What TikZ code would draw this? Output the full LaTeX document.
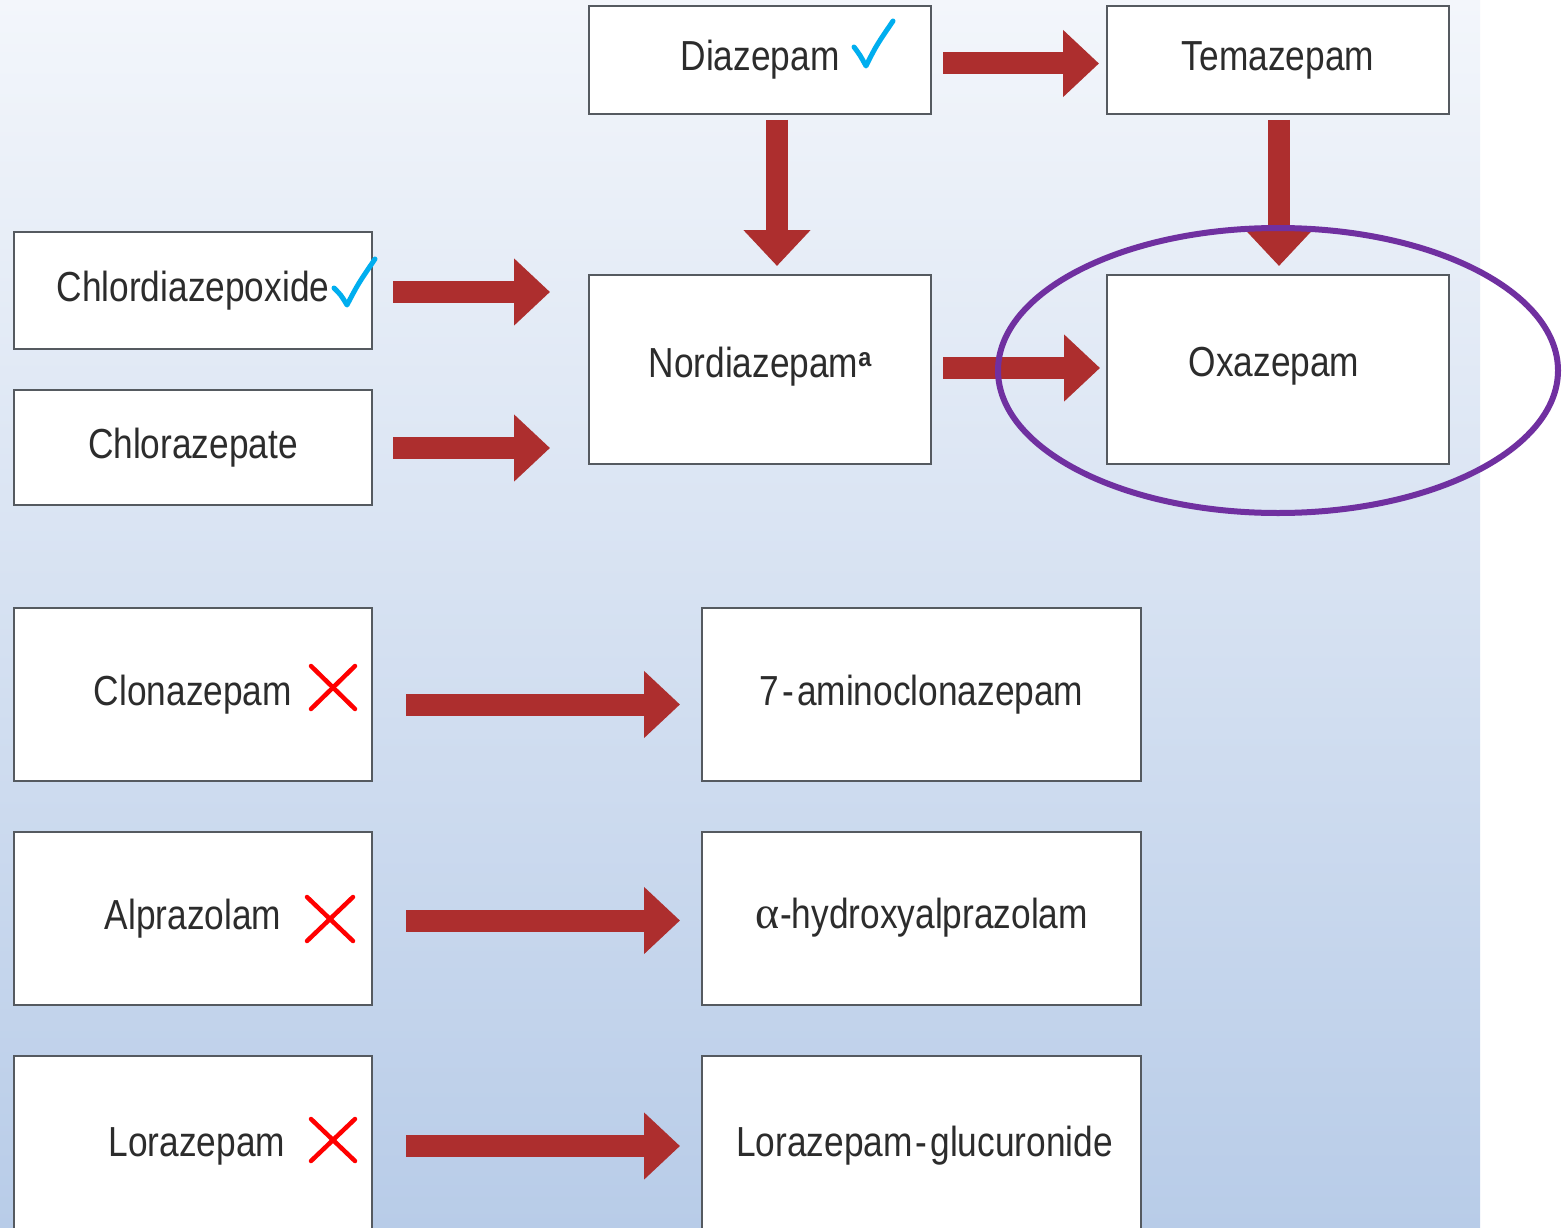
\documentclass[tikz,border=0pt]{standalone}
\usepackage{fontspec}
\setmainfont{Liberation Sans}[FakeStretch=0.84]
\newfontfamily\grkfont{Liberation Serif}
\newfontfamily\supfont{Liberation Sans Bold}[FakeStretch=0.9]
\usetikzlibrary{arrows.meta,shapes.geometric}
\definecolor{bgtop}{HTML}{F3F6FB}
\definecolor{bgbot}{HTML}{B8CCE8}
\definecolor{boxgray}{HTML}{555A60}
\definecolor{txtgray}{HTML}{2C2C2C}
\definecolor{arrowred}{HTML}{AD2E2E}
\definecolor{checkblue}{HTML}{00AEEF}
\definecolor{ovalpurple}{HTML}{7030A0}
\newcommand{\hyph}{\kern3pt-\kern3pt}
\tikzset{
  drugbox/.style={draw=boxgray, line width=2pt, fill=white, rectangle, inner sep=0pt,
    text=txtgray, font=\fontsize{42}{50}\selectfont},
  bigarrow/.style={draw=arrowred, line width=22pt, -{Triangle[length=36pt,width=65pt]}},
  checkmark/.style={draw=checkblue, line width=5pt, line cap=round, line join=round},
  xmark/.style={draw=red, line width=4.5pt, line cap=round},
}
\begin{document}
\begin{tikzpicture}[x=1pt,y=-1pt]
\useasboundingbox (0,0) rectangle (1563,1228);
\clip (0,0) rectangle (1563,1228);
\fill[white] (0,0) rectangle (1563,1228);
\shade[top color=bgtop, bottom color=bgbot] (0,0) rectangle (1480,1228);

% boxes
\node[drugbox, minimum width=342pt, minimum height=108pt] (diaz) at (760,60) {\raisebox{-3pt}{Diazepam}};
\node[drugbox, minimum width=342pt, minimum height=108pt] (temaz) at (1278,60) {\raisebox{-3pt}{Temazepam}};
\node[drugbox, minimum width=358pt, minimum height=117pt] (chl) at (193,290.5) {Chlordiazepoxide};
\node[drugbox, minimum width=358pt, minimum height=115pt] (clz) at (193,447.5) {Chlorazepate};
\node[drugbox, minimum width=342pt, minimum height=189pt] (nord) at (760,369.5) {\raisebox{15pt}{Nordiazepam\raisebox{11pt}{\supfont\fontsize{26}{26}\selectfont a}}};
\node[drugbox, minimum width=342pt, minimum height=189pt] (oxaz) at (1278,369.5) {\raisebox{15pt}{Oxazepam\hspace{8pt}}};
\node[drugbox, minimum width=358pt, minimum height=173pt] (clon) at (193,694.5) {\raisebox{2pt}{Clonazepam}};
\node[drugbox, minimum width=439pt, minimum height=173pt] (amino) at (921.5,694.5) {\raisebox{2pt}{7\hyph aminoclonazepam}};
\node[drugbox, minimum width=358pt, minimum height=173pt] (alp) at (193,918.5) {Alprazolam};
\node[drugbox, minimum width=439pt, minimum height=173pt] (hyd) at (921.5,918.5) {\raisebox{11pt}{{\grkfont\fontsize{46}{50}\selectfont α}\kern1pt-hydroxyalprazolam}};
\node[drugbox, minimum width=358pt, minimum height=180pt] (lor) at (193,1146) {\raisebox{7pt}{\hspace{8pt}Lorazepam}};
\node[drugbox, minimum width=439pt, minimum height=180pt] (glu) at (921.5,1146) {\raisebox{7pt}{\hspace{6pt}Lorazepam\hyph glucuronide}};

% arrows
\draw[bigarrow, shorten <=11pt, shorten >=7pt] ([yshift=-3.5pt]diaz.east) -- ([yshift=-3.5pt]temaz.west);
\draw[bigarrow, shorten <=5pt, shorten >=8pt] ([xshift=17pt]diaz.south) -- ([xshift=17pt]nord.north);
\draw[bigarrow, shorten <=5pt, shorten >=8pt] ([xshift=1pt]temaz.south) -- ([xshift=1pt]oxaz.north);
\draw[bigarrow, shorten <=20pt, shorten >=38pt] ([yshift=-1.5pt]chl.east) -- ([yshift=-1.5pt]chl.east -| nord.west);
\draw[bigarrow, shorten <=20pt, shorten >=38pt] ([yshift=-0.5pt]clz.east) -- ([yshift=-0.5pt]clz.east -| nord.west);
\draw[bigarrow, shorten <=11pt, shorten >=6pt] ([yshift=1.5pt]nord.east) -- ([yshift=1.5pt]oxaz.west);
\draw[bigarrow, shorten <=33pt, shorten >=21pt] ([yshift=-10pt]clon.east) -- ([yshift=-10pt]amino.west);
\draw[bigarrow, shorten <=33pt, shorten >=21pt] ([yshift=-2pt]alp.east) -- ([yshift=-2pt]hyd.west);
\draw[bigarrow, shorten <=33pt, shorten >=21pt] (lor.east) -- (glu.west);

% check marks
\draw[checkmark] (854,47) .. controls (860,55) .. (866,66) .. controls (876,46) .. (893,21);
\draw[checkmark] (334,288) .. controls (341,295) .. (347,305) .. controls (358,284) .. (375,259);

% cross marks
\draw[xmark] (311,666) -- (355,709);
\draw[xmark] (355,666) -- (311,709);
\draw[xmark] (307,897) -- (353,941);
\draw[xmark] (353,897) -- (307,941);
\draw[xmark] (311,1119) -- (355,1161);
\draw[xmark] (355,1119) -- (311,1161);

% highlight oval
\draw[ovalpurple, line width=6pt] (1278,370.5) ellipse [x radius=280, y radius=142.5];
\end{tikzpicture}
\end{document}
